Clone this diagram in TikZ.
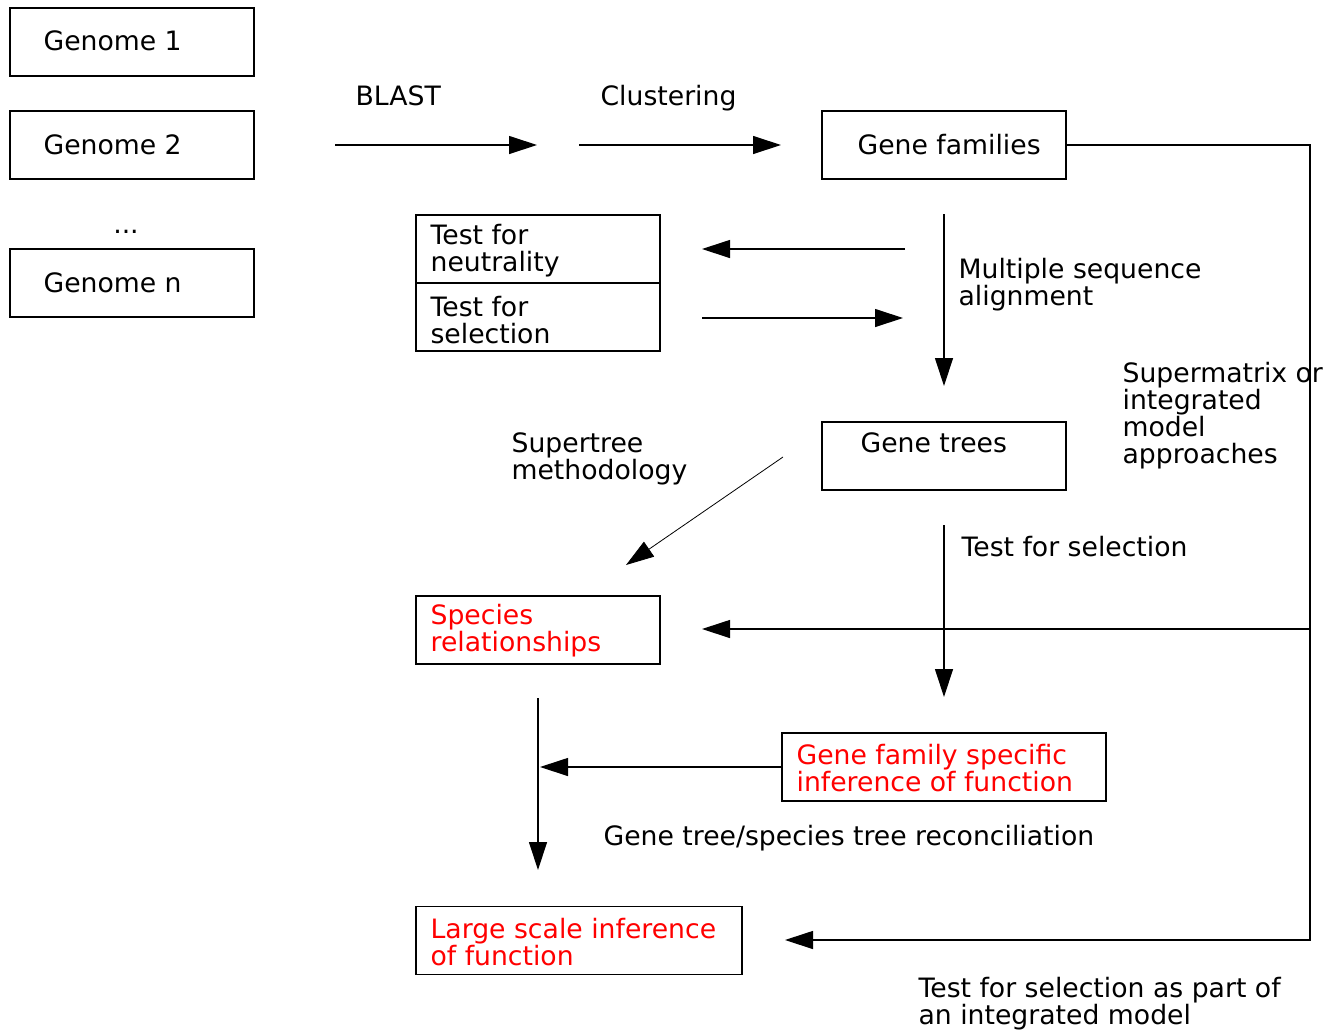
\documentclass[tikz,border=0pt]{standalone}
\usepackage{fontspec}
\setmainfont{DejaVu Sans}
\usetikzlibrary{arrows.meta}

\begin{document}
\begin{tikzpicture} [x=0.75pt, y=-0.75pt, line width=0.9pt, >={Triangle[length=21pt,width=13.5pt]}]
\tikzstyle{every node}=[font=\fontsize{20}{20.25}\selectfont, inner sep=0pt];
\tikzstyle{box}=[draw, rectangle, minimum width=183pt, minimum height=51pt];
\tikzstyle{lbl}=[anchor=west, align=left];
\tikzstyle{res}=[lbl, text=red];
\useasboundingbox (0,0) rectangle (1336,1029);
% boxes
\node [box] (g1) at (132, 42) {};
\node [box] (g2) at (132, 145) {};
\node [box] (gn) at (132, 283) {};
\node [box] (fam) at (944, 145) {};
\node [box] (neut) at (538, 249) {};
\node [box] (sel) at (538, 317) {};
\node [box] (trees) at (944, 456) {};
\node [box] (spec) at (538, 630) {};
\node [box, minimum width=243pt] (gfs) at (944, 767) {};
\node [box, minimum width=244.5pt] (large) at (579, 940.5) {};
% texts
\node [lbl] (tg1) at (43, 41) {Genome 1};
\node [lbl] (tg2) at (43, 145) {Genome 2};
\node (dots) at (126, 232) {...};
\node [lbl] (tgn) at (43, 283) {Genome n};
\node [lbl] (blast) at (355, 96) {BLAST};
\node [lbl] (clust) at (600, 98) {Clustering};
\node [lbl] (tfam) at (857, 145) {Gene families};
\node [lbl] (tneut) at (430, 251) {Test for\\neutrality};
\node [lbl] (tsel) at (430, 320) {Test for\\selection};
\node [lbl] (msa) at (958, 284.5) {Multiple sequence\\alignment};
\node [lbl] (smx) at (1122, 415.5) {Supermatrix or\\integrated\\model\\approaches};
\node [lbl] (ttrees) at (860, 443) {Gene trees};
\node [lbl] (stree) at (511, 458.5) {Supertree\\methodology};
\node [lbl] (tfs) at (961, 547) {Test for selection};
\node [res] (tspec) at (430, 630.5) {Species\\relationships};
\node [res] (tgfs) at (796, 768.5) {Gene family specific\\inference of function};
\node [lbl] (recon) at (603, 838) {Gene tree/species tree reconciliation};
\node [res] (tlarge) at (430, 942.5) {Large scale inference\\of function};
\node [lbl] (tint) at (918, 1003.5) {Test for selection as part of\\an integrated model};
% arrow ends
\coordinate (b0) at (335, 145);
\coordinate (b1) at (537, 145);
\coordinate (c0) at (579, 145);
\coordinate (c1) at (781, 145);
\coordinate (n0) at (905, 249);
\coordinate (n1) at (702, 249);
\coordinate (s0) at (702, 318);
\coordinate (s1) at (903, 318);
\coordinate (m0) at (944, 214);
\coordinate (m1) at (944, 386);
\coordinate (d0) at (783, 457);
\coordinate (d1) at (626, 565);
\coordinate (u0) at (944, 525);
\coordinate (u1) at (944, 697);
\coordinate (rt) at (1310, 145);
\coordinate (rm) at (1310, 629);
\coordinate (rb) at (1310, 940);
\coordinate (sp1) at (702, 629);
\coordinate (lg1) at (785, 940);
\coordinate (r1) at (540, 767);
\coordinate (v0) at (538, 698);
\coordinate (v1) at (538, 870);
\draw [->] (b0) -- (b1);
\draw [->] (c0) -- (c1);
\draw [->] (n0) -- (n1);
\draw [->] (s0) -- (s1);
\draw [->] (m0) -- (m1);
\draw [->, line width=0.6pt] (d0) -- (d1);
\draw [->] (u0) -- (u1);
\draw [->] (fam.east) -- (rt) -- (rb) -- (lg1);
\draw [->] (rm) -- (sp1);
\draw [->] (gfs.west) -- (r1);
\draw [->] (v0) -- (v1);
\end{tikzpicture}
\end{document}
